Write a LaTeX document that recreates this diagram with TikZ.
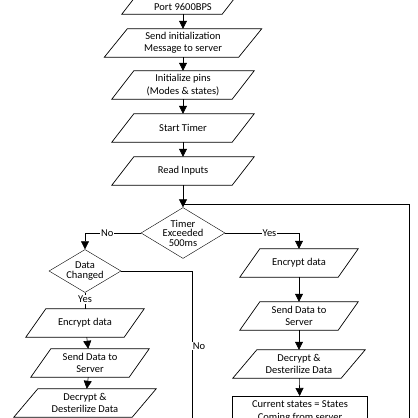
\documentclass[tikz,border=0pt]{standalone}
\usepackage{fontspec}
\setmainfont{Carlito}
\usetikzlibrary{shapes.geometric,arrows.meta,calc}
\tikzset{
  box/.style={minimum width=#1, minimum height=28pt, inner sep=0pt, align=center, font=\fontsize{10.5}{12.5}\selectfont},
  dia/.style={diamond, draw, aspect=1.65, inner sep=0pt, minimum width=72pt, minimum height=43pt, align=center, font=\fontsize{10.5}{9.5}\selectfont},
  ar/.style={-{Triangle[length=8pt,width=8pt]}, line width=0.6pt},
  ln/.style={line width=0.6pt},
  lab/.style={font=\fontsize{10.5}{12}\selectfont, fill=white, inner sep=1pt}
}
\newcommand{\para}[6]{%
  \node[box=#4] (#1) at (#2,#3) {#6};
  \draw[line width=0.7pt] ($(#1.south west)+(-#5,0)$) -- ($(#1.north west)+(#5,0)$) -- ($(#1.north east)+(#5,0)$) -- ($(#1.south east)+(-#5,0)$) -- cycle;}
\begin{document}
\begin{tikzpicture}[x=1pt,y=-1pt]
\useasboundingbox (0,0) rectangle (418,418);
\clip (0,0) rectangle (418,418);
\para{p1}{183}{0}{100}{11}{}
\node[box=100, minimum height=10pt] (p1t) at (183,7) {Port 9600BPS};
\para{p2}{183}{43}{134}{11.5}{Send initialization\\Message to server}
\para{p3}{183}{85}{120}{11}{Initialize pins\\(Modes \& states)}
\para{p4}{183}{128}{120}{11}{Start Timer}
\para{p5}{183}{171}{120}{11}{Read Inputs}
\node[dia] (d1) at (183,233) {Timer\\Exceeded\\500ms};
\node[dia] (d2) at (85,271) {Data\\Changed};
\para{l1}{85}{323}{98}{10}{Encrypt data}
\para{l2}{90}{363}{98}{10}{Send Data to\\Server}
\para{l3}{85}{403}{118}{12}{Decrypt \&\\Desterilize Data}
\para{r1}{299}{263}{98}{10}{Encrypt data}
\para{r2}{299}{316}{98}{10}{Send Data to\\Server}
\para{r3}{299}{364}{108}{12}{Decrypt \&\\Desterilize Data}
\node[box=135, draw, line width=1.4pt, minimum height=30pt, anchor=north] (r4) at (300,396) {Current states = States\\Coming from server};
\coordinate (j) at (183,204);
\coordinate (e) at (409,204);
\draw[ar] (p1) -- (p2);
\draw[ar] (p2) -- (p3);
\draw[ar] (p3) -- (p4);
\draw[ar] (p4) -- (p5);
\draw[ar] (p5) -- (d1);
\draw[ln] (e) -- (j);
\draw[ln] (e) -- (409,420);
\draw[ar] (d1.west) -| node[lab,pos=0.3]{No} (d2.north);
\draw[ar] (d1.east) -| node[lab,pos=0.3]{Yes} (r1.north);
\draw[ln] (d2.east) -| (192,420);
\node[lab] at (199,346) {No};
\draw[ln] (d2.south) -- node[lab,pos=0.4]{Yes} (l1.north);
\draw[ar] (l1) -- (l2);
\draw[ar] (l2) -- (l3);
\draw[ar] (r1) -- (r2);
\draw[ar] (r2) -- (r3);
\draw[ar] (r3) -- (r4);
\end{tikzpicture}
\end{document}
